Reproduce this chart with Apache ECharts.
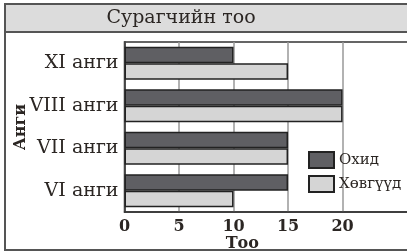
<!DOCTYPE html>
<html>
<head>
  <meta charset="UTF-8">
  <title>Сурагчийн тоо</title>
  <script src="https://cdn.jsdelivr.net/npm/echarts@6/dist/echarts.min.js"></script>
  <style>
    body { margin: 0; background: #fff; }
    #main { width: 407px; height: 252px; }
  </style>
</head>
<body>
  <div id="main"></div>
  <script>
    // classes, bottom to top
    const classes = ['VI анги', 'VII анги', 'VIII анги', 'XI анги'];
    const girls = [15, 15, 20, 10];   // Охид
    const boys = [10, 15, 20, 15];    // Хөвгүүд
    const xTicks = [0, 5, 10, 15, 20];

    const serif = '"DejaVu Serif", "Liberation Serif", serif';
    const ink = '#2b2623';

    const chart = echarts.init(document.getElementById('main'));

    const option = {
      animation: false,
      graphic: [
        {
          type: 'rect', z: -10,
          shape: { x: 5, y: 4, width: 420, height: 246 },
          style: { fill: '#fff', stroke: '#555', lineWidth: 2 }
        },
        {
          type: 'rect', z: -9,
          shape: { x: 5, y: 4, width: 420, height: 28 },
          style: { fill: '#dcdcdc', stroke: '#555', lineWidth: 2 }
        },
        {
          type: 'text', z: 10,
          style: {
            x: 181, y: 18,
            text: 'Сурагчийн тоо', font: '19px ' + serif, fill: ink,
            textAlign: 'center', textVerticalAlign: 'middle'
          }
        }
      ],
      grid: {
        left: 124.5, right: -1, top: 42, bottom: 40,
        outerBoundsMode: 'none',
        containLabel: false,
        show: true, borderColor: '#333', borderWidth: 1.5,
        backgroundColor: 'transparent'
      },
      legend: {
        orient: 'vertical',
        left: 308, top: 151,
        padding: 0,
        icon: 'rect',
        itemWidth: 25, itemHeight: 16, itemGap: 6,
        data: ['Охид', 'Хөвгүүд'],
        textStyle: { fontFamily: serif, fontSize: 15, color: ink }
      },
      xAxis: {
        type: 'value',
        min: 0, max: 26, interval: 5,
        name: 'Тоо',
        nameLocation: 'middle',
        nameGap: 24,
        nameMoveOverlap: false,
        nameTextStyle: {
          fontFamily: serif, fontSize: 16, fontWeight: 'bold', color: ink,
          padding: [0, 48, 0, 0]
        },
        axisLine: { show: true, lineStyle: { color: '#333', width: 1.5 } },
        axisTick: { show: false },
        axisLabel: {
          margin: 7,
          fontFamily: serif, fontSize: 16, fontWeight: 'bold', color: ink,
          formatter: v => (xTicks.indexOf(v) >= 0 ? String(v) : '')
        },
        splitLine: {
          show: true,
          lineStyle: {
            color: ['#999', '#999', '#999', '#999', '#999', 'rgba(0,0,0,0)', 'rgba(0,0,0,0)'],
            width: 1.5
          }
        }
      },
      yAxis: {
        type: 'category',
        data: classes,
        name: 'Анги',
        nameLocation: 'middle',
        nameRotate: 90,
        nameGap: 96,
        nameMoveOverlap: false,
        nameTextStyle: { fontFamily: serif, fontSize: 16, fontWeight: 'bold', color: ink },
        axisLine: { show: true, lineStyle: { color: '#333', width: 1.5 } },
        axisTick: { show: false },
        axisLabel: { margin: 6, fontFamily: serif, fontSize: 19, color: ink },
        splitLine: { show: false }
      },
      series: [
        {
          name: 'Охид',
          type: 'bar',
          data: girls,
          barGap: '0%',
          barCategoryGap: '22%',
          itemStyle: { color: '#5f5f63', borderColor: '#222', borderWidth: 1.5 }
        },
        {
          name: 'Хөвгүүд',
          type: 'bar',
          data: boys,
          itemStyle: { color: '#d5d5d5', borderColor: '#222', borderWidth: 1.5 }
        }
      ]
    };

    chart.setOption(option);
  </script>
</body>
</html>
